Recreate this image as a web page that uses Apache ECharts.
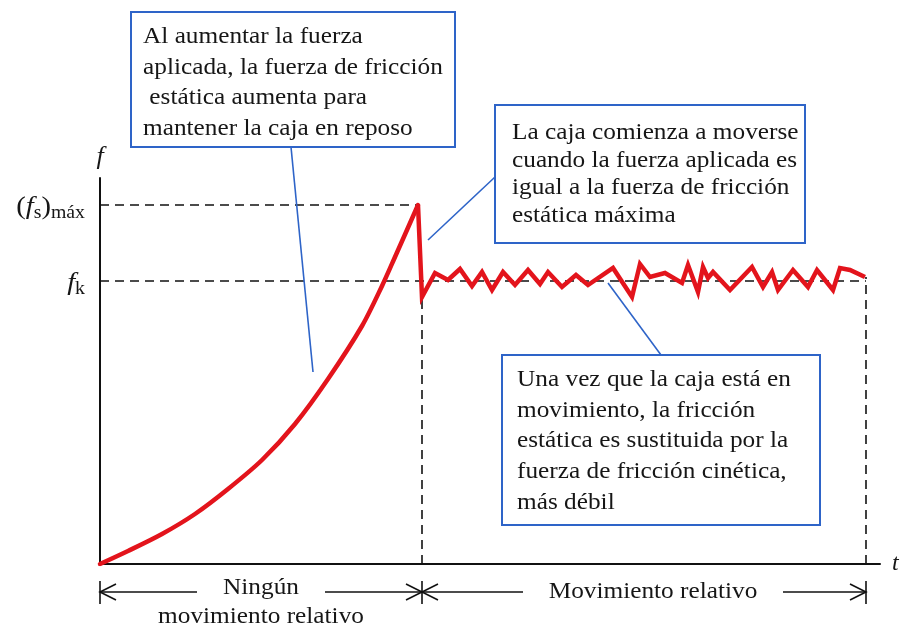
<!DOCTYPE html>
<html>
<head>
<meta charset="utf-8">
<script src="https://cdn.jsdelivr.net/npm/echarts@6/dist/echarts.min.js"></script>
<style>
  html, body { margin: 0; background: #fff; }
  #main { width: 911px; height: 630px; }
</style>
</head>
<body>
<div id="main"></div>
<script>
// tiempo t y fuerza f en unidades arbitrarias
const staticT = [0, 2.8, 6.2, 9.5, 12.8, 16.2, 19.5, 22.8, 26.2, 28.2, 29.5, 31.8];
const staticF = [0, 1.3, 3.0, 5.0, 7.5, 10.4, 14.0, 18.5, 23.8, 27.8, 30.7, 35.9];
const kineticT = [32.2, 33.5, 34.8, 36.0, 37.2, 38.2, 39.2, 40.3, 41.5, 42.8, 44.0, 44.8, 46.2, 47.6, 48.8,
  51.3, 53.2, 54.0, 55.0, 56.5, 58.2, 58.8, 59.8, 60.3, 60.8, 61.3, 63.0, 65.2, 66.3, 67.2, 67.8,
  69.3, 70.8, 71.7, 73.3, 74.0, 75.0, 76.5];
const kineticF = [26.7, 29.1, 28.4, 29.5, 27.8, 29.2, 27.4, 29.2, 27.9, 29.4, 28.0, 29.2, 27.7, 28.9, 27.9,
  29.6, 26.7, 30.0, 28.7, 29.1, 28.1, 29.9, 27.2, 29.7, 28.6, 29.2, 27.4, 29.7, 27.7, 29.2, 27.4,
  29.4, 27.7, 29.4, 27.4, 29.6, 29.4, 28.7];
const fsMax = 35.9;
const fk = 28.3;
const tPeak = 31.8;
const tSlip = 32.2;
const tEnd = 76.6;
const tMax = 78;
const fMax = 38.6;

const serif = 'Liberation Serif';
const red = '#e3141c';
const blue = '#2e64c8';
const ink = '#161616';
const stretch = 1.1; // el texto del original es algo más ancho

let chart = echarts.init(document.getElementById('main'));

function pairs(xs, ys) {
  return xs.map((x, i) => [x, ys[i]]);
}

function guide(name, data) {
  return {
    name,
    type: 'line',
    symbol: 'none',
    silent: true,
    z: 1,
    lineStyle: { color: '#111', width: 1.6, type: [9, 6] },
    data
  };
}

let option = {
  animation: false,
  grid: { left: 100, right: 31, top: 178, bottom: 66 },
  xAxis: {
    type: 'value', min: 0, max: tMax,
    name: 't', nameLocation: 'end', nameGap: 12,
    nameTextStyle: { fontFamily: serif, fontStyle: 'italic', fontSize: 24, color: ink, verticalAlign: 'middle' },
    axisLine: { lineStyle: { color: '#111', width: 2 } },
    axisTick: { show: false }, axisLabel: { show: false }, splitLine: { show: false }
  },
  yAxis: {
    type: 'value', min: 0, max: fMax,
    name: 'f', nameLocation: 'end', nameGap: 8,
    nameTextStyle: { fontFamily: serif, fontStyle: 'italic', fontSize: 26, color: ink, align: 'center' },
    axisLine: { lineStyle: { color: '#111', width: 2 } },
    axisTick: { show: false }, axisLabel: { show: false }, splitLine: { show: false }
  },
  series: [
    guide('fs max', [[0, fsMax], [tPeak, fsMax]]),
    guide('fk', [[0, fk], [tEnd, fk]]),
    guide('inicio', [[tSlip, 0], [tSlip, kineticF[0]]]),
    guide('fin', [[tEnd, 0], [tEnd, kineticF[kineticF.length - 1]]]),
    {
      name: 'fricción estática',
      type: 'line',
      symbol: 'none',
      smooth: 0.3,
      z: 5,
      lineStyle: { color: red, width: 4.5, cap: 'round' },
      data: pairs(staticT, staticF)
    },
    {
      name: 'fricción cinética',
      type: 'line',
      symbol: 'none',
      z: 5,
      lineStyle: { color: red, width: 4.5, join: 'miter' },
      data: [[staticT[staticT.length - 1], staticF[staticF.length - 1]]].concat(pairs(kineticT, kineticF))
    }
  ]
};
chart.setOption(option);

// anotaciones: etiquetas del eje, cuadros de texto, líneas guía y flechas inferiores
const subRich = {
  p: { fontFamily: serif, fontSize: 26, lineHeight: 30, fill: ink },
  f: { fontFamily: serif, fontSize: 26, lineHeight: 30, fontStyle: 'italic', fill: ink },
  s: { fontFamily: serif, fontSize: 18, lineHeight: 20, verticalAlign: 'bottom', fill: ink },
  m: { fontFamily: serif, fontSize: 18, lineHeight: 20, verticalAlign: 'bottom', fill: ink }
};

function px(t, f) {
  return chart.convertToPixel({ gridIndex: 0 }, [t, f]);
}

function axisTag(f, text) {
  const p = px(0, f);
  return { type: 'text', x: p[0] - 15, y: p[1] + 2, scaleX: stretch,
    style: { text, rich: subRich, align: 'right', verticalAlign: 'middle' } };
}

function box(x, y, w, h, lines, lineH, padLeft, firstY) {
  let els = [{
    type: 'rect', shape: { x, y, width: w, height: h },
    style: { fill: '#fff', stroke: blue, lineWidth: 2 }, z: 10
  }];
  lines.forEach((t, i) => {
    els.push({
      type: 'text', x: x + padLeft, y: firstY + i * lineH, z: 11, scaleX: stretch,
      style: { text: t, fontFamily: serif, fontSize: 23, fill: ink, verticalAlign: 'middle' }
    });
  });
  return els;
}

function leader(x1, y1, x2, y2) {
  return { type: 'line', z: 9, shape: { x1, y1, x2, y2 }, style: { stroke: blue, lineWidth: 1.6 } };
}

function seg(x1, y1, x2, y2) {
  return { type: 'line', shape: { x1, y1, x2, y2 }, style: { stroke: '#111', lineWidth: 1.6 } };
}

function arrowHead(x, y, dir) {
  return { type: 'polyline', shape: { points: [[x + dir * 16, y - 8], [x, y], [x + dir * 16, y + 8]] },
    style: { stroke: '#111', lineWidth: 1.6, fill: null } };
}

function label(x, y, t) {
  return { type: 'text', x, y, scaleX: stretch,
    style: { text: t, fontFamily: serif, fontSize: 23, fill: ink, align: 'center', verticalAlign: 'middle' } };
}

const x0 = px(0, 0)[0];
const xs = px(tSlip, 0)[0];
const xe = px(tEnd, 0)[0];
const ay = 592;

let g = [];
g.push(axisTag(fsMax, '{p|(}{f|f}{s|s}{p|)}{m|máx}'));
g.push(axisTag(fk, '{f|f}{s|k}'));
g = g.concat(box(131, 12, 324, 135, [
  'Al aumentar la fuerza',
  'aplicada, la fuerza de fricción',
  ' estática aumenta para',
  'mantener la caja en reposo'
], 30.5, 12, 37));
g = g.concat(box(495, 105, 310, 138, [
  'La caja comienza a moverse',
  'cuando la fuerza aplicada es',
  'igual a la fuerza de fricción',
  'estática máxima'
], 27.5, 17, 133));
g = g.concat(box(502, 355, 318, 170, [
  'Una vez que la caja está en',
  'movimiento, la fricción',
  'estática es sustituida por la',
  'fuerza de fricción cinética,',
  'más débil'
], 30.7, 15, 380));
g.push(leader(291, 147, 313, 372));
g.push(leader(495, 177, 428, 240));
g.push(leader(661, 355, 608, 283));

// flechas de los intervalos
const m1 = (x0 + xs) / 2;
const m2 = (xs + xe) / 2 + 9;
g.push(seg(x0, ay - 11, x0, ay + 12), seg(xs, ay - 11, xs, ay + 12), seg(xe, ay - 11, xe, ay + 12));
g.push(seg(x0, ay, m1 - 64, ay), seg(m1 + 64, ay, xs, ay), arrowHead(x0, ay, 1), arrowHead(xs, ay, -1));
g.push(seg(xs, ay, m2 - 130, ay), seg(m2 + 130, ay, xe, ay), arrowHead(xs, ay, 1), arrowHead(xe, ay, -1));
g.push(label(m1, ay - 4, 'Ningún'), label(m1, ay + 25, 'movimiento relativo'), label(m2, ay, 'Movimiento relativo'));

chart.setOption({ graphic: g });
</script>
</body>
</html>
